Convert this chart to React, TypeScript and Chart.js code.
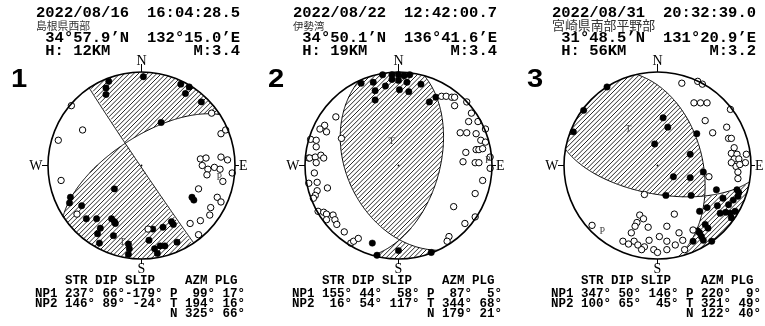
import { useEffect, useRef } from "react";
import { Chart, registerables } from "chart.js";
Chart.register(...registerables);

// ---------- event data ----------
const panelNumbers = ["1", "2", "3"];
const dates = ["2022/08/16", "2022/08/22", "2022/08/31"];
const times = ["16:04:28.5", "12:42:00.7", "20:32:39.0"];
const regions = ["島根県西部", "伊勢湾", "宮崎県南部平野部"];
const latitudes = ["34°57.9’N", "34°50.1’N", "31°48.5’N"];
const longitudes = ["132°15.0’E", "136°41.6’E", "131°20.9’E"];
const depthsKm = [12, 19, 56];
const magnitudes = ["3.4", "3.4", "3.2"];

const np1Strike = [237, 155, 347];
const np1Dip = [66, 44, 50];
const np1Slip = [-179, 58, 146];
const np2Strike = [146, 16, 100];
const np2Dip = [89, 54, 65];
const np2Slip = [-24, 117, 45];
const pAzm = [99, 87, 220];
const pPlg = [17, 5, 9];
const tAzm = [194, 344, 321];
const tPlg = [16, 68, 49];
const nAzm = [325, 179, 122];
const nPlg = [66, 21, 40];

// ---------- first-motion polarities (lower-hemisphere equal-area x=east, y=north) ----------
const push1 = [[0.02,0.95],[-0.35,0.90],[-0.38,0.83],[-0.38,0.76],[0.42,0.87],[0.51,0.84],[0.47,0.77],[0.64,0.68],[0.21,0.46],[-0.29,-0.25],[-0.76,-0.34],[-0.77,-0.40],[-0.64,-0.43],[-0.59,-0.57],[-0.48,-0.57],[-0.44,-0.67],[-0.47,-0.73],[-0.45,-0.83],[-0.32,-0.57],[-0.29,-0.60],[-0.28,-0.62],[-0.30,-0.75],[-0.14,-0.84],[-0.13,-0.89],[-0.14,-0.95],[0.12,-0.68],[0.23,-0.66],[0.32,-0.60],[0.34,-0.63],[0.08,-0.80],[0.14,-0.89],[0.20,-0.86],[0.25,-0.86],[0.17,-0.94],[0.38,-0.82],[0.54,-0.34],[0.56,-0.37]];
const pull1 = [[-0.75,0.64],[-0.63,0.38],[-0.89,0.27],[-0.86,-0.16],[-0.69,-0.52],[0.07,-0.68],[0.75,0.56],[0.85,0.34],[0.90,0.38],[0.63,0.07],[0.69,0.08],[0.85,0.09],[0.92,0.06],[0.65,0.00],[0.71,-0.04],[0.78,-0.02],[0.84,-0.04],[0.70,-0.10],[0.97,-0.08],[0.87,-0.17],[0.61,-0.25],[0.81,-0.34],[0.85,-0.39],[0.74,-0.45],[0.73,-0.53],[0.63,-0.59],[0.52,-0.62],[0.61,-0.74]];

const push2 = [[-0.17,0.97],[-0.07,0.97],[0.00,0.97],[0.06,0.96],[0.12,0.97],[-0.40,0.88],[-0.27,0.89],[-0.14,0.85],[-0.07,0.92],[0.00,0.91],[0.09,0.89],[0.01,0.81],[0.11,0.79],[0.24,0.87],[-0.25,0.80],[-0.25,0.70],[0.33,0.68],[0.40,0.73],[-0.28,-0.83],[-0.23,-0.96],[0.00,-0.91],[0.35,-0.93]];
const pull2 = [[0.46,0.74],[0.51,0.74],[0.57,0.73],[0.60,0.73],[0.60,0.64],[0.73,0.68],[0.78,0.56],[0.75,0.47],[0.85,0.47],[0.66,0.35],[0.73,0.35],[0.83,0.34],[0.93,0.39],[0.88,0.27],[0.93,0.25],[0.72,0.14],[0.83,0.17],[0.86,0.17],[0.90,0.18],[0.69,0.04],[0.82,0.03],[0.86,0.03],[0.98,0.09],[0.98,-0.03],[0.90,-0.16],[0.82,-0.30],[0.59,-0.44],[0.82,-0.55],[0.71,-0.62],[0.54,-0.76],[0.52,-0.81],[-0.67,0.52],[-0.79,0.43],[-0.84,0.39],[-0.77,0.36],[-0.61,0.29],[-0.94,0.28],[-0.88,0.27],[-0.88,0.20],[-0.96,0.08],[-0.95,0.08],[-0.89,0.09],[-0.83,0.11],[-0.80,0.08],[-0.88,0.03],[-0.90,-0.08],[-0.96,-0.19],[-0.87,-0.18],[-0.76,-0.24],[-0.87,-0.27],[-0.89,-0.32],[-0.91,-0.35],[-0.86,-0.49],[-0.80,-0.50],[-0.77,-0.52],[-0.70,-0.53],[-0.77,-0.58],[-0.68,-0.58],[-0.66,-0.63],[-0.58,-0.71],[-0.51,-0.83],[-0.48,-0.81],[-0.43,-0.78]];

const push3 = [[-0.54,0.84],[-0.79,0.59],[-0.90,0.36],[0.06,0.51],[0.11,0.41],[0.42,0.34],[-0.03,0.23],[0.35,0.12],[0.17,-0.12],[0.35,-0.13],[0.49,-0.07],[0.09,-0.32],[0.36,-0.32],[0.63,-0.26],[0.85,-0.26],[0.87,-0.29],[0.86,-0.33],[0.70,-0.35],[0.53,-0.45],[0.64,-0.43],[0.76,-0.42],[0.81,-0.37],[0.67,-0.51],[0.73,-0.50],[0.78,-0.51],[0.83,-0.49],[0.79,-0.56],[0.45,-0.49],[0.51,-0.63],[0.54,-0.67],[0.43,-0.70],[0.45,-0.72],[0.47,-0.76],[0.49,-0.80],[0.38,-0.81],[0.58,-0.81]];
const pull3 = [[0.26,0.88],[0.43,0.90],[0.48,0.87],[0.78,0.60],[0.39,0.67],[0.46,0.67],[0.53,0.67],[0.51,0.48],[0.59,0.35],[0.74,0.41],[0.76,0.29],[0.79,0.29],[0.82,0.19],[0.79,0.13],[0.85,0.12],[0.95,0.12],[0.82,0.07],[0.87,0.07],[0.94,0.03],[0.79,0.03],[0.84,-0.01],[0.88,0.01],[0.86,-0.07],[0.86,-0.14],[0.55,-0.12],[-0.14,-0.31],[0.18,-0.52],[-0.70,-0.64],[-0.19,-0.53],[-0.15,-0.57],[-0.22,-0.61],[-0.24,-0.65],[-0.28,-0.72],[-0.10,-0.66],[0.10,-0.65],[-0.37,-0.81],[-0.31,-0.84],[-0.25,-0.81],[-0.21,-0.85],[-0.14,-0.87],[-0.17,-0.90],[-0.09,-0.80],[-0.04,-0.90],[0.00,-0.93],[0.02,-0.76],[0.10,-0.81],[0.10,-0.90],[0.19,-0.85],[0.23,-0.72],[0.27,-0.80],[0.29,-0.90],[0.38,-0.69]];

const pushSets = [push1, push2, push3];
const pullSets = [pull1, pull2, pull3];

// ---------- layout / style ----------
const panelLefts = [0, 257, 516];
const regionFontPx = [10.8, 10.5, 12.9];

// ---------- geometry helpers ----------
const D2R = Math.PI / 180;
const dot = (a: number[], b: number[]) => a[0] * b[0] + a[1] * b[1] + a[2] * b[2];
function axisVec(az: number, plg: number) {
  const a = az * D2R, p = plg * D2R;
  return [Math.cos(p) * Math.cos(a), Math.cos(p) * Math.sin(a), Math.sin(p)];
}
function project(v: number[]) {
  let [n, e, d] = v;
  if (d < 0) { n = -n; e = -e; d = -d; }
  const f = Math.sqrt(1 + d);
  return [e / f, n / f];
}
function faultVectors(str: number, dip: number, rake: number) {
  const s = str * D2R, dp = dip * D2R, r = rake * D2R;
  const n = [-Math.sin(dp) * Math.sin(s), Math.sin(dp) * Math.cos(s), -Math.cos(dp)];
  const d = [
    Math.cos(r) * Math.cos(s) + Math.cos(dp) * Math.sin(r) * Math.sin(s),
    Math.cos(r) * Math.sin(s) - Math.cos(dp) * Math.sin(r) * Math.cos(s),
    -Math.sin(r) * Math.sin(dp),
  ];
  return { n, d };
}
const pad = (v: number | string, w: number) => String(v).padStart(w, " ");

function makePlugin(i: number) {
  return {
    id: "beachball" + i,
    beforeDatasetsDraw(chart: any) {
      const ctx = chart.ctx;
      const xs = chart.scales.x, ys = chart.scales.y;
      const cx = xs.getPixelForValue(0), cy = ys.getPixelForValue(0);
      const R = xs.getPixelForValue(1) - cx;
      const { n, d } = faultVectors(np1Strike[i], np1Dip[i], np1Slip[i]);
      const T = axisVec(tAzm[i], tPlg[i]);
      const sgn = Math.sign(dot(n, T) * dot(d, T)) || 1;
      const comp = (px: number, py: number) => {
        const ux = xs.getValueForPixel(px), uy = ys.getValueForPixel(py);
        const r2 = ux * ux + uy * uy;
        if (r2 > 1) return false;
        const D = 1 - r2, f = Math.sqrt(1 + D);
        const v = [uy * f, ux * f, D];
        return dot(n, v) * dot(d, v) * sgn > 0;
      };
      ctx.save();
      ctx.beginPath();
      ctx.arc(cx, cy, R, 0, Math.PI * 2);
      ctx.fillStyle = "#fff";
      ctx.fill();
      ctx.clip();
      ctx.beginPath();
      const step = 0.5, sp = 4.6;
      for (let c = cx + cy - 2 * R; c <= cx + cy + 2 * R; c += sp) {
        let run = false;
        for (let x = cx - R; x <= cx + R + step; x += step) {
          const y = c - x;
          const ok = comp(x, y);
          if (ok && !run) { ctx.moveTo(x, y); run = true; }
          else if (!ok && run) { ctx.lineTo(x - step, y + step); run = false; }
        }
      }
      ctx.lineWidth = 0.85;
      ctx.strokeStyle = "#000";
      ctx.stroke();
      ctx.restore();

      // nodal planes
      ctx.save();
      ctx.strokeStyle = "#000";
      ctx.lineWidth = 1;
      const planes = [[np1Strike[i], np1Dip[i]], [np2Strike[i], np2Dip[i]]];
      for (const [st, dp] of planes) {
        const s = st * D2R, dd = dp * D2R;
        const sv = [Math.cos(s), Math.sin(s), 0];
        const dv = [-Math.sin(s) * Math.cos(dd), Math.cos(s) * Math.cos(dd), Math.sin(dd)];
        ctx.beginPath();
        for (let t = 0; t <= 180; t += 1) {
          const a = t * D2R;
          const v = [Math.cos(a) * sv[0] + Math.sin(a) * dv[0], Math.cos(a) * sv[1] + Math.sin(a) * dv[1], Math.sin(a) * dv[2]];
          const [ux, uy] = project(v);
          const px = xs.getPixelForValue(ux), py = ys.getPixelForValue(uy);
          if (t === 0) ctx.moveTo(px, py); else ctx.lineTo(px, py);
        }
        ctx.stroke();
      }
      ctx.restore();
    },
    afterDatasetsDraw(chart: any) {
      const ctx = chart.ctx;
      const xs = chart.scales.x, ys = chart.scales.y;
      const cx = xs.getPixelForValue(0), cy = ys.getPixelForValue(0);
      const R = xs.getPixelForValue(1) - cx;
      ctx.save();
      // outline
      ctx.beginPath();
      ctx.arc(cx, cy, R, 0, Math.PI * 2);
      ctx.lineWidth = 1.6;
      ctx.strokeStyle = "#000";
      ctx.stroke();
      // center dot
      ctx.beginPath();
      ctx.arc(cx, cy, 0.9, 0, Math.PI * 2);
      ctx.fillStyle = "#000";
      ctx.fill();
      // P / T labels
      ctx.font = "10px 'Liberation Serif'";
      ctx.fillStyle = "#444";
      ctx.textAlign = "center";
      ctx.textBaseline = "middle";
      const pp = project(axisVec(pAzm[i], pPlg[i]));
      const tp = project(axisVec(tAzm[i], tPlg[i]));
      ctx.fillText("P", xs.getPixelForValue(pp[0]), ys.getPixelForValue(pp[1]));
      ctx.fillText("T", xs.getPixelForValue(tp[0]), ys.getPixelForValue(tp[1]));
      // compass ticks + labels
      ctx.strokeStyle = "#000";
      ctx.lineWidth = 1;
      ctx.beginPath();
      ctx.moveTo(cx, cy - R); ctx.lineTo(cx, cy - R - 8);
      ctx.moveTo(cx, cy + R); ctx.lineTo(cx, cy + R + 5);
      ctx.moveTo(cx - R, cy); ctx.lineTo(cx - R - 6, cy);
      ctx.moveTo(cx + R, cy); ctx.lineTo(cx + R + 4, cy);
      ctx.stroke();
      ctx.fillStyle = "#000";
      ctx.font = "14px 'Liberation Serif'";
      ctx.textBaseline = "alphabetic";
      ctx.textAlign = "center";
      ctx.fillText("N", cx, cy - R - 7);
      ctx.fillText("S", cx, cy + R + 14);
      ctx.textAlign = "right";
      ctx.fillText("W", cx - R - 5.5, cy + 4.5);
      ctx.textAlign = "left";
      ctx.fillText("E", cx + R + 4, cy + 4.5);
      ctx.restore();
    },
    afterDraw(chart: any) {
      const ctx = chart.ctx;
      ctx.save();
      ctx.fillStyle = "#000";
      ctx.textBaseline = "alphabetic";
      // panel number
      ctx.save();
      ctx.translate(11, 87);
      ctx.scale(1.12, 1);
      ctx.font = "bold 26px 'Liberation Sans'";
      ctx.textAlign = "left";
      ctx.fillText(panelNumbers[i], 0, 0);
      ctx.restore();
      // header
      const L = 36, Rr = 240;
      ctx.textAlign = "left";
      ctx.font = "bold 15.5px 'Liberation Mono'";
      ctx.fillText(dates[i], L, 17.3);
      ctx.textAlign = "right";
      ctx.fillText(times[i], Rr, 17.3);
      ctx.textAlign = "left";
      ctx.fillText(latitudes[i], L + 9.3, 41.7);
      ctx.fillText("H: " + depthsKm[i] + "KM", L + 9.3, 55);
      ctx.textAlign = "right";
      ctx.fillText(longitudes[i], Rr, 41.7);
      ctx.fillText("M:" + magnitudes[i], Rr, 55);
      ctx.textAlign = "left";
      ctx.fillStyle = "#333";
      ctx.font = `${regionFontPx[i]}px 'Noto Sans CJK JP'`;
      ctx.fillText(regions[i], L, 29.8);
      // mechanism table
      ctx.fillStyle = "#000";
      ctx.font = "bold 12.5px 'Liberation Mono'";
      const rows = [
        "    STR DIP SLIP    AZM PLG",
        `NP1 ${pad(np1Strike[i], 3)}° ${pad(np1Dip[i], 2)}°${pad(np1Slip[i], 4)}° P ${pad(pAzm[i], 3)}° ${pad(pPlg[i], 2)}°`,
        `NP2 ${pad(np2Strike[i], 3)}° ${pad(np2Dip[i], 2)}°${pad(np2Slip[i], 4)}° T ${pad(tAzm[i], 3)}° ${pad(tPlg[i], 2)}°`,
        `${" ".repeat(18)}N ${pad(nAzm[i], 3)}° ${pad(nPlg[i], 2)}°`,
      ];
      const ys = [283.5, 296.5, 306.5, 316.5];
      rows.forEach((r, k) => ctx.fillText(r, 35, ys[k]));
      ctx.restore();
    },
  };
}

function Panel({ index }: { index: number }) {
  const ref = useRef<HTMLCanvasElement | null>(null);
  useEffect(() => {
    if (!ref.current) return;
    const toPts = (arr: number[][]) => arr.map(([x, y]) => ({ x, y }));
    const chart = new Chart(ref.current, {
      type: "scatter",
      data: {
        datasets: [
          {
            data: toPts(pullSets[index]),
            pointRadius: 3.2,
            pointBackgroundColor: "#fff",
            pointBorderColor: "#000",
            pointBorderWidth: 1,
            clip: false,
          } as any,
          {
            data: toPts(pushSets[index]),
            pointRadius: 3.2,
            pointBackgroundColor: "#000",
            pointBorderColor: "#000",
            pointBorderWidth: 0.5,
            clip: false,
          } as any,
        ],
      },
      options: {
        animation: false,
        responsive: false,
        devicePixelRatio: 1,
        events: [],
        layout: { padding: { left: 48, right: 20, top: 72, bottom: 67 } },
        plugins: { legend: { display: false }, tooltip: { enabled: false } },
        scales: {
          x: { type: "linear", min: -1, max: 1, display: false },
          y: { type: "linear", min: -1, max: 1, display: false },
        },
      },
      plugins: [makePlugin(index)],
    });
    return () => chart.destroy();
  }, [index]);
  return (
    <div style={{ position: "absolute", left: panelLefts[index], top: 0, width: 255, height: 326 }}>
      <canvas ref={ref} width={255} height={326} style={{ width: 255, height: 326 }} />
    </div>
  );
}

export default function App() {
  return (
    <div style={{ position: "fixed", left: 0, top: 0, width: 765, height: 326, overflow: "hidden", background: "#fff" }}>
      {[0, 1, 2].map((i) => (
        <Panel key={i} index={i} />
      ))}
    </div>
  );
}
